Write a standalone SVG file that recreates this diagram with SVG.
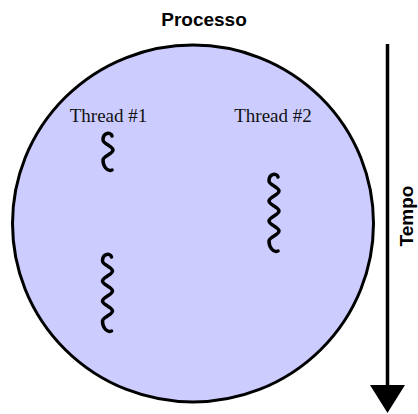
<svg xmlns="http://www.w3.org/2000/svg" width="418" height="414" viewBox="0 0 418 414">
  <style>
    .title { font-family: "Liberation Sans", Arial, sans-serif; font-weight: bold; font-size: 19px; fill: #000; }
    .label { font-family: "Liberation Serif", "Times New Roman", serif; font-size: 19px; fill: #111; }
    .proc { fill: #ccccff; stroke: #000; stroke-width: 3; }
    .wave { fill: none; stroke: #000; stroke-width: 3.5; stroke-linecap: round; stroke-linejoin: round; }
    .axis { stroke: #000; stroke-width: 3.5; fill: none; }
  </style>
  <defs>
    <!-- thread glyphs: vertical wavy strokes, origin at top centre -->
    <path id="wave-short" class="wave" d="M 4,4 C 3,0 -5,0 -5,8 C -5,12 5,14 5,18 C 5,22 -5,24 -5,28 C -5,34 -1,40 4,38"/>
    <path id="wave-long" class="wave" d="M 4,4 C 3,0 -5,0 -5,8 C -5,12 5,14 5,18 C 5,22 -5,24 -5,28 C -5,32 5,34 5,38 C 5,42 -5,44 -5,48 C -5,52 5,54 5,58 C 5,62 -5,64 -5,68 C -5,74 -1,80 4,78"/>
  </defs>

  <g id="processo">
    <ellipse class="proc" cx="193" cy="223.5" rx="180.5" ry="178.5"/>
    <text class="title" x="204" y="26" text-anchor="middle">Processo</text>
  </g>

  <g id="thread1">
    <text class="label" x="108.5" y="122" text-anchor="middle">Thread #1</text>
    <use href="#wave-short" transform="translate(108,132)"/>
    <use href="#wave-long" transform="translate(107.5,253)"/>
  </g>

  <g id="thread2">
    <text class="label" x="273" y="122" text-anchor="middle">Thread #2</text>
    <use href="#wave-long" transform="translate(274,173)"/>
  </g>

  <g id="connectors">
    <line class="axis" x1="387.5" y1="44" x2="387.5" y2="388"/>
    <polygon points="370,385 405,385 387.5,413" fill="#000"/>
    <text class="title" transform="translate(413,216) rotate(-90)" text-anchor="middle">Tempo</text>
  </g>
</svg>
